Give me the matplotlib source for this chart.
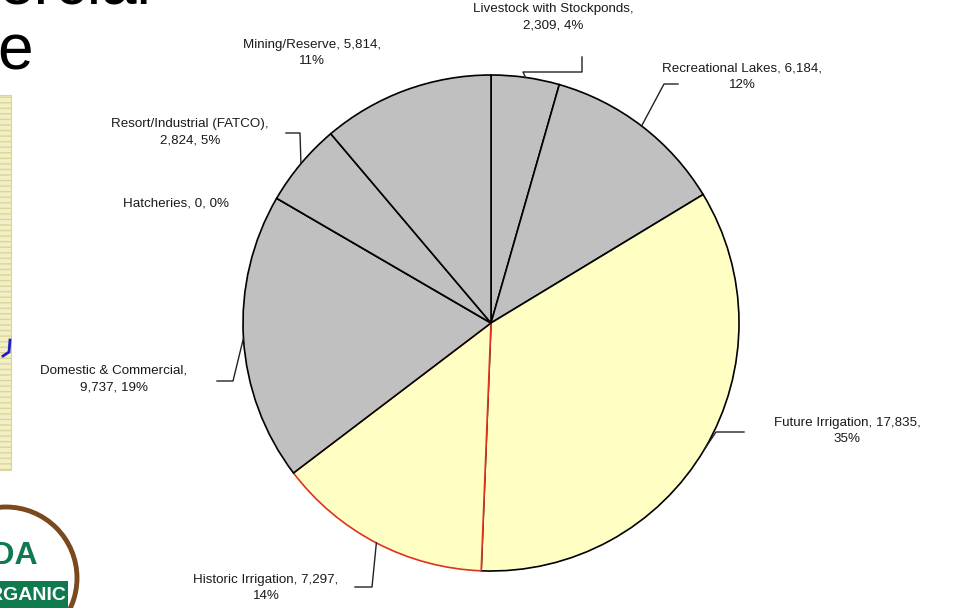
import numpy as np
import matplotlib
matplotlib.use("Agg")
import matplotlib.pyplot as plt
from matplotlib.patches import Rectangle, Circle

plt.rcParams['font.family'] = ['Liberation Sans', 'DejaVu Sans']

# ---- data ----
categories = ["Livestock with Stockponds", "Recreational Lakes", "Future Irrigation",
              "Historic Irrigation", "Domestic & Commercial", "Hatcheries",
              "Resort/Industrial (FATCO)", "Mining/Reserve"]
values = [2309, 6184, 17835, 7297, 9737, 0, 2824, 5814]
percents = [4, 12, 35, 14, 19, 0, 5, 11]
label_texts = ["Livestock with Stockponds,\n2,309, 4%",
               "Recreational Lakes, 6,184,\n12%",
               "Future Irrigation, 17,835,\n35%",
               "Historic Irrigation, 7,297,\n14%",
               "Domestic & Commercial,\n9,737, 19%",
               "Hatcheries, 0, 0%",
               "Resort/Industrial (FATCO),\n2,824, 5%",
               "Mining/Reserve, 5,814,\n11%"]

GRAY = "#C0C0C0"
YELLOW = "#FFFFC4"
colors = [GRAY, GRAY, YELLOW, YELLOW, GRAY, GRAY, GRAY, GRAY]
edges = ["black", "black", "black", "#E03020", "black", "black", "black", "black"]

W, H = 965, 608
fig = plt.figure(figsize=(W / 100, H / 100), dpi=100)
ax = fig.add_axes([0, 0, 1, 1])

def py(y):  # pixel row (from top) -> data y
    return H - y

cx, cy, R = 491, py(323), 248

wedges, _ = ax.pie(values, colors=colors, startangle=90, counterclock=False,
                   center=(cx, cy), radius=R, frame=True,
                   wedgeprops=dict(linewidth=1.2))
for w, ec in zip(wedges, edges):
    w.set_edgecolor(ec)
ax.set_xlim(0, W)
ax.set_ylim(0, H)
ax.set_aspect("equal")
ax.axis("off")

# label layout: text centre (px) and leader elbow points (px)
layout = [
    dict(pos=(553, 17), path=[(523, 72), (582, 72), (582, 57)]),
    dict(pos=(742, 77), path=[(664, 84), (678, 84)]),
    dict(pos=(847, 431), path=[(716, 432), (744, 432)]),
    dict(pos=(266, 588), path=[(372, 587), (355, 587)]),
    dict(pos=(114, 379), path=[(233, 381), (217, 381)]),
    dict(pos=(176, 203), path=None),
    dict(pos=(190, 132), path=[(300, 133), (286, 133)]),
    dict(pos=(312, 53), path=None),
]

for w, txt, lay in zip(wedges, label_texts, layout):
    ang = np.deg2rad((w.theta1 + w.theta2) / 2)
    ax_x = cx + R * np.cos(ang)
    ax_y = cy + R * np.sin(ang)
    ax.text(lay["pos"][0], py(lay["pos"][1]), txt, ha="center", va="center",
            fontsize=9.6, color="#1a1a1a", linespacing=1.5)
    if lay["path"]:
        xs = [ax_x] + [p[0] for p in lay["path"]]
        ys = [ax_y] + [py(p[1]) for p in lay["path"]]
        ax.plot(xs, ys, color="#222222", lw=1.0)

# ---- slide fragments on the left ----
ax.text(-2, py(4), "ercial", fontsize=46, ha="left", va="baseline", color="black")
ax.text(-3, py(70), "e", fontsize=46, ha="left", va="baseline", color="black")
ax.add_patch(Rectangle((-10, py(470)), 21, 375, facecolor="#F2EFC4",
                       edgecolor="#DAD59A", hatch="---", lw=0.8))
ax.plot([3, 9, 10], [py(356), py(352), py(340)], color="#2020C0", lw=2)
ax.add_patch(Circle((6, py(578)), 71, facecolor="white", edgecolor="#7A4A1E", lw=3.5))
ax.add_patch(Rectangle((-10, py(608)), 78, 27, facecolor="#0E7A4E", edgecolor="none"))
ax.text(38, py(556), "USDA", fontsize=23, fontweight="bold", color="#0E7A4E",
        ha="right", va="center")
ax.text(66, py(596), "ORGANIC", fontsize=14, fontweight="bold", color="white",
        ha="right", va="center")

fig.savefig("out.png", dpi=100, facecolor="white")
